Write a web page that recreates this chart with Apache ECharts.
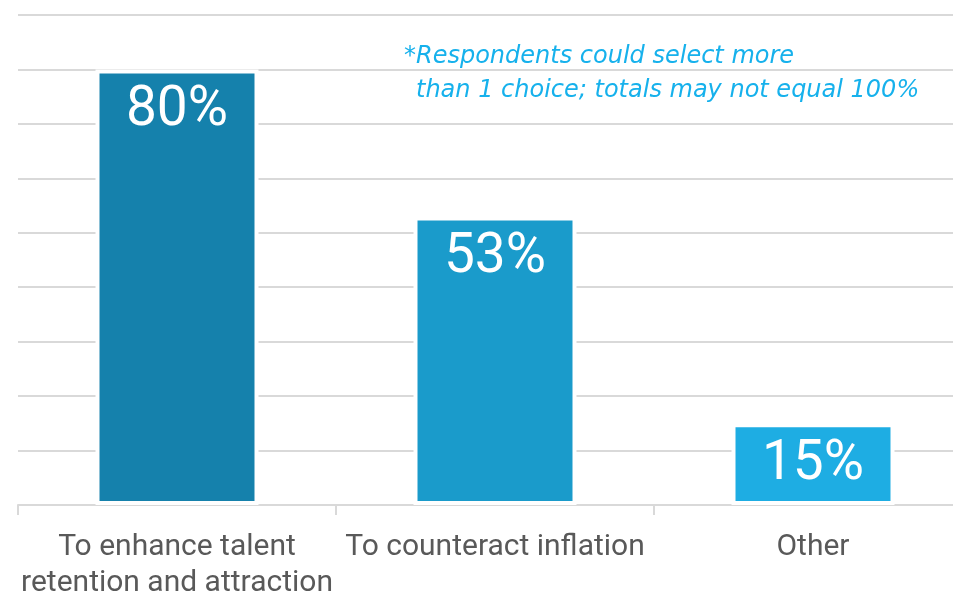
<!DOCTYPE html>
<html>
<head>
<meta charset="utf-8">
<script src="https://cdn.jsdelivr.net/npm/echarts@6/dist/echarts.min.js"></script>
<style>
  html, body { margin: 0; padding: 0; background: #fff; }
  #chart { width: 953px; height: 592px; }
</style>
</head>
<body>
<div id="chart"></div>
<script>
// 数据
var categories = ["To enhance talent\nretention and attraction", "To counteract inflation", "Other"];
var values = [80, 53, 15];
var barColors = ["#1581ac", "#1a9bcb", "#1eade3"];
var noteLines = ["*Respondents could select more", "than 1 choice; totals may not equal 100%"];

var chart = echarts.init(document.getElementById("chart"));

var option = {
  animation: false,
  grid: { left: 18, right: -19, top: 15, bottom: 87, outerBoundsMode: "none", containLabel: false },
  xAxis: {
    type: "category",
    data: categories,
    axisLine: { lineStyle: { color: "#d9d9d9", width: 2 } },
    axisTick: { show: true, length: 10, lineStyle: { color: "#d9d9d9", width: 2 } },
    axisLabel: {
      color: "#595959",
      fontFamily: "Roboto",
      fontSize: 30,
      lineHeight: 36,
      margin: 24,
      interval: 0
    }
  },
  yAxis: {
    type: "value",
    min: 0,
    max: 90,
    interval: 10,
    axisLabel: { show: false },
    axisLine: { show: false },
    axisTick: { show: false },
    splitLine: { lineStyle: { color: "#d9d9d9", width: 2 } }
  },
  series: [
    {
      type: "bar",
      barWidth: 163,
      data: values.map(function (v, i) {
        return { value: v, itemStyle: { color: barColors[i] } };
      }),
      itemStyle: { borderColor: "#ffffff", borderWidth: 4 },
      label: {
        show: true,
        position: "insideTop",
        distance: 14,
        color: "#ffffff",
        fontFamily: "Roboto",
        fontSize: 55,
        formatter: "{c}%"
      }
    }
  ],
  graphic: [
    {
      type: "text",
      left: 404,
      top: 45,
      style: {
        text: noteLines[0],
        fill: "#16b1ec",
        font: "italic 24px 'DejaVu Sans'"
      }
    },
    {
      type: "text",
      left: 416,
      top: 79,
      style: {
        text: noteLines[1],
        fill: "#16b1ec",
        font: "italic 24px 'DejaVu Sans'"
      }
    }
  ]
};

chart.setOption(option);
</script>
</body>
</html>
